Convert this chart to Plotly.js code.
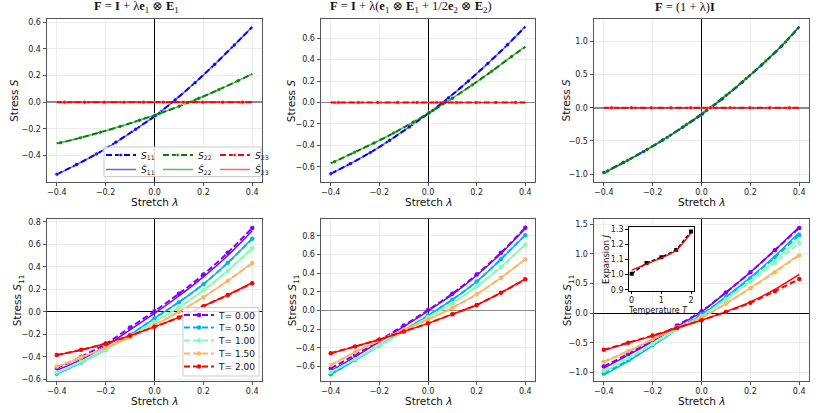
<!DOCTYPE html>
<html><head><meta charset="utf-8">
<script src="https://cdn.plot.ly/plotly-3.0.1.min.js"></script>
<style>html,body{margin:0;padding:0;background:#fff}#chart{width:822px;height:413px}</style>
</head><body><div id="chart"></div>
<script>
// ================= DATA =================
// Top row: stretch λ at which the plotted points (markers) of each component sit
const lamS11 = [-0.4,-0.319,-0.238,-0.158,-0.077,0.004,0.085,0.166,0.246,0.327,0.4];
const lamS22 = [-0.4,-0.384,-0.303,-0.222,-0.141,-0.061,0.020,0.101,0.182,0.263,0.343,0.4];
const lamS23 = [-0.4,-0.368,-0.287,-0.206,-0.125,-0.044,0.036,0.117,0.198,0.279,0.360,0.4];

// Panel A : F = I + λ e1⊗E1
const A_S11    = [-0.541,-0.468,-0.389,-0.300,-0.203,-0.100,0.018,0.147,0.284,0.430,0.565];
const A_S11hat = [-0.543,-0.469,-0.390,-0.301,-0.203,-0.100,0.018,0.147,0.284,0.430,0.566];
const A_S22    = [-0.308,-0.304,-0.267,-0.226,-0.182,-0.135,-0.085,-0.030,0.030,0.094,0.162,0.212];
const A_S22hat = [-0.308,-0.304,-0.267,-0.226,-0.182,-0.135,-0.085,-0.030,0.030,0.094,0.162,0.212];
const A_S23    = [0,0,0,0,0,0,0,0,0,0,0,0];
const A_S23hat = [0,0,0,0,0,0,0,0,0,0,0,0];

// Panel B : F = I + λ(e1⊗E1 + 1/2 e2⊗E2)
const B_S11    = [-0.666,-0.572,-0.469,-0.354,-0.229,-0.098,0.045,0.200,0.365,0.540,0.709];
const B_S11hat = [-0.667,-0.572,-0.469,-0.354,-0.229,-0.098,0.045,0.200,0.365,0.540,0.710];
const B_S22    = [-0.567,-0.553,-0.466,-0.379,-0.285,-0.184,-0.076,0.040,0.164,0.293,0.428,0.520];
const B_S22hat = [-0.567,-0.553,-0.466,-0.379,-0.285,-0.184,-0.076,0.040,0.164,0.293,0.428,0.521];
const B_S23    = [0,0,0,0,0,0,0,0,0,0,0,0];
const B_S23hat = [0,0,0,0,0,0,0,0,0,0,0,0];

// Panel C : F = (1 + λ) I
const C_S11    = [-0.975,-0.824,-0.662,-0.486,-0.295,-0.093,0.135,0.382,0.645,0.927,1.225];
const C_S11hat = [-0.980,-0.826,-0.663,-0.487,-0.296,-0.093,0.135,0.383,0.646,0.929,1.228];
const C_S22    = [-0.990,-0.955,-0.795,-0.628,-0.447,-0.250,-0.040,0.190,0.440,0.705,0.990,1.215];
const C_S22hat = [-0.995,-0.958,-0.797,-0.629,-0.448,-0.251,-0.040,0.190,0.441,0.707,0.993,1.225];
const C_S23    = [0,0,0,0,0,0,0,0,0,0,0,0];
const C_S23hat = [0,0,0,0,0,0,0,0,0,0,0,0];

// Bottom row: stretch grid and temperatures
const lamT  = [-0.4,-0.3,-0.2,-0.1,0.0,0.1,0.2,0.3,0.4];
const temps = [0.0, 0.5, 1.0, 1.5, 2.0];

// Panel D (uniaxial), S11 for T = 0, 0.5, 1, 1.5, 2  (dashed = data, solid = model)
const D_T0  = [-0.500,-0.400,-0.285,-0.140,0.005,0.160,0.330,0.525,0.745];
const D_T05 = [-0.550,-0.450,-0.335,-0.205,-0.058,0.085,0.245,0.435,0.648];
const D_T1  = [-0.540,-0.445,-0.335,-0.215,-0.090,0.040,0.190,0.365,0.565];
const D_T15 = [-0.487,-0.405,-0.320,-0.225,-0.118,0.000,0.130,0.275,0.433];
const D_T2  = [-0.383,-0.338,-0.282,-0.212,-0.134,-0.050,0.050,0.148,0.254];
const D_T0hat  = [-0.520,-0.425,-0.305,-0.160,-0.015,0.140,0.310,0.500,0.720];
const D_T05hat = [-0.552,-0.451,-0.336,-0.206,-0.058,0.085,0.245,0.435,0.650];
const D_T1hat  = [-0.545,-0.447,-0.336,-0.216,-0.090,0.040,0.190,0.365,0.565];
const D_T15hat = [-0.490,-0.406,-0.320,-0.225,-0.118,0.000,0.130,0.275,0.433];
const D_T2hat  = [-0.385,-0.339,-0.282,-0.212,-0.134,-0.050,0.050,0.150,0.258];

// Panel E (biaxial)
const E_T0  = [-0.620,-0.475,-0.320,-0.160,0.005,0.180,0.385,0.620,0.886];
const E_T05 = [-0.682,-0.530,-0.375,-0.215,-0.054,0.116,0.310,0.550,0.807];
const E_T1  = [-0.657,-0.520,-0.375,-0.225,-0.072,0.078,0.258,0.468,0.707];
const E_T15 = [-0.582,-0.445,-0.320,-0.205,-0.097,0.030,0.175,0.350,0.548];
const E_T2  = [-0.456,-0.385,-0.310,-0.225,-0.137,-0.040,0.060,0.190,0.334];
const E_T0hat  = [-0.645,-0.495,-0.335,-0.172,-0.005,0.170,0.375,0.610,0.878];
const E_T05hat = [-0.685,-0.531,-0.376,-0.215,-0.054,0.116,0.310,0.550,0.808];
const E_T1hat  = [-0.660,-0.521,-0.375,-0.225,-0.072,0.078,0.258,0.468,0.708];
const E_T15hat = [-0.584,-0.446,-0.320,-0.205,-0.097,0.030,0.175,0.350,0.550];
const E_T2hat  = [-0.458,-0.386,-0.310,-0.225,-0.137,-0.040,0.060,0.192,0.338];

// Panel F (volumetric)
const F_T0  = [-0.900,-0.690,-0.460,-0.210,0.030,0.350,0.690,1.060,1.440];
const F_T05 = [-1.020,-0.795,-0.540,-0.270,-0.020,0.270,0.590,0.940,1.320];
const F_T1  = [-0.975,-0.760,-0.520,-0.270,-0.050,0.230,0.530,0.850,1.190];
const F_T15 = [-0.820,-0.640,-0.440,-0.245,-0.080,0.160,0.420,0.690,0.975];
const F_T2  = [-0.620,-0.500,-0.380,-0.250,-0.120,0.020,0.175,0.370,0.575];
const F_T0hat  = [-0.930,-0.710,-0.475,-0.225,0.020,0.345,0.690,1.065,1.455];
const F_T05hat = [-1.045,-0.815,-0.550,-0.280,-0.030,0.275,0.605,0.965,1.360];
const F_T1hat  = [-0.995,-0.770,-0.525,-0.275,-0.050,0.240,0.550,0.890,1.255];
const F_T15hat = [-0.830,-0.645,-0.445,-0.248,-0.080,0.162,0.425,0.700,0.990];
const F_T2hat  = [-0.630,-0.505,-0.385,-0.252,-0.120,0.025,0.190,0.400,0.655];

// Inset: thermal expansion J vs temperature T
const insetT     = [0.0, 0.5, 1.0, 1.5, 2.0];
const insetJ     = [1.005, 1.077, 1.115, 1.163, 1.285];
const insetJhat  = [1.030, 1.070, 1.110, 1.160, 1.275];

// ================= STYLE =================
const FONT = 'DejaVu Sans, Verdana, sans-serif';
const SERIF = 'Liberation Serif, DejaVu Serif, serif';
const W = 822, H = 413;
const px = v => v / W, py = v => 1 - v / H;
const BLUE = '#0000ff', GREEN = '#008000', RED = '#ff0000';
const TCOL = ['#8000ff', '#00b4eb', '#80ffb4', '#ffb462', '#ff0000'];
const DASH = '6px,3px';
const MS = 4.5;

const traces = [];

function sizesFor(arr, skipFirst) {
  return arr.map((v, i) => (i === arr.length - 1 || (skipFirst && i === 0)) ? 0 : MS);
}

function topPanel(n, s11, s11h, s22, s22h, s23, s23h, legend) {
  const xa = 'x' + (n === 1 ? '' : n), ya = 'y' + (n === 1 ? '' : n);
  const specs = [
    [lamS11, s11, s11h, BLUE, '11', false, 'spline'],
    [lamS22, s22, s22h, GREEN, '22', true, 'spline'],
    [lamS23, s23, s23h, RED, '23', true, 'linear']
  ];
  specs.forEach(([lx, y, yh, col, sub, skip, shape]) => {
    traces.push({x: lx, y: y, xaxis: xa, yaxis: ya, type: 'scatter', mode: 'lines+markers',
      name: '<i>S</i><sub>' + sub + '</sub>', legend: 'legend', showlegend: legend,
      line: {color: col, width: 2, dash: DASH, shape: shape, smoothing: 0.8},
      marker: {color: col, size: sizesFor(lx, skip)}});
    traces.push({x: lx, y: yh, xaxis: xa, yaxis: ya, type: 'scatter', mode: 'lines',
      name: '<i>Ŝ</i><sub>' + sub + '</sub>', legend: 'legend2', showlegend: legend,
      opacity: 0.6, line: {color: col, width: 1.5, shape: shape, smoothing: 0.8}});
  });
}

function bottomPanel(n, sets, hats, legend) {
  const xa = 'x' + n, ya = 'y' + n;
  sets.forEach((y, i) => {
    traces.push({x: lamT, y: y, xaxis: xa, yaxis: ya, type: 'scatter', mode: 'lines+markers',
      name: 'T= ' + temps[i].toFixed(2), legend: 'legend' + (3 + i), showlegend: legend,
      line: {color: TCOL[i], width: 2, dash: DASH, shape: 'spline', smoothing: 0.8},
      marker: {color: TCOL[i], size: MS}});
    traces.push({x: lamT, y: hats[i], xaxis: xa, yaxis: ya, type: 'scatter', mode: 'lines',
      showlegend: false, line: {color: TCOL[i], width: 1.5, shape: 'spline', smoothing: 0.8}});
  });
}

topPanel(1, A_S11, A_S11hat, A_S22, A_S22hat, A_S23, A_S23hat, true);
topPanel(2, B_S11, B_S11hat, B_S22, B_S22hat, B_S23, B_S23hat, false);
topPanel(3, C_S11, C_S11hat, C_S22, C_S22hat, C_S23, C_S23hat, false);
bottomPanel(4, [D_T0, D_T05, D_T1, D_T15, D_T2], [D_T0hat, D_T05hat, D_T1hat, D_T15hat, D_T2hat], true);
bottomPanel(5, [E_T0, E_T05, E_T1, E_T15, E_T2], [E_T0hat, E_T05hat, E_T1hat, E_T15hat, E_T2hat], false);
bottomPanel(6, [F_T0, F_T05, F_T1, F_T15, F_T2], [F_T0hat, F_T05hat, F_T1hat, F_T15hat, F_T2hat], false);

// inset
traces.push({x: insetT, y: insetJ, xaxis: 'x7', yaxis: 'y7', type: 'scatter', mode: 'lines+markers',
  showlegend: false, line: {color: '#000', width: 1.5, dash: '4px,2px'}, marker: {color: '#000', size: 4, symbol: 'square'}});
traces.push({x: insetT, y: insetJhat, xaxis: 'x7', yaxis: 'y7', type: 'scatter', mode: 'lines',
  showlegend: false, line: {color: RED, width: 1.3, shape: 'spline', smoothing: 0.6}});

// ================= LAYOUT =================
const colX = [[47, 262], [321, 535], [594, 809]];
const rowY = [[19, 182], [219, 381]];
const tickFont = {family: FONT, size: 8, color: '#222'};

function xAxis(col, row, anchor) {
  return {domain: [px(colX[col][0]), px(colX[col][1])], anchor: anchor, range: [-0.44, 0.44],
    tickvals: [-0.4, -0.2, 0, 0.2, 0.4], tickformat: '.1f', tickfont: tickFont,
    showgrid: true, gridcolor: '#ececec', gridwidth: 1,
    zeroline: true, zerolinecolor: '#000', zerolinewidth: 1,
    showline: true, mirror: true, linecolor: '#555', linewidth: 1,
    ticks: 'outside', ticklen: 2.5, tickwidth: 1, tickcolor: '#555', fixedrange: true};
}
function yAxis(col, row, anchor, range, dtick, zcol, zw) {
  return {domain: [py(rowY[row][1]), py(rowY[row][0])], anchor: anchor, range: range,
    dtick: dtick, tick0: 0, tickformat: '.1f', tickfont: tickFont,
    showgrid: true, gridcolor: '#ececec', gridwidth: 1,
    zeroline: true, zerolinecolor: zcol, zerolinewidth: zw,
    showline: true, mirror: true, linecolor: '#555', linewidth: 1,
    ticks: 'outside', ticklen: 3.5, tickwidth: 1, tickcolor: '#555', fixedrange: true};
}

const layout = {
  width: W, height: H, margin: {l: 0, r: 0, t: 0, b: 0},
  paper_bgcolor: '#fff', plot_bgcolor: '#fff', showlegend: true,
  font: {family: FONT, size: 10, color: '#111'},
  xaxis:  xAxis(0, 0, 'y'),  yaxis:  yAxis(0, 0, 'x',  [-0.599, 0.625], 0.2, '#8a8a8a', 1.6),
  xaxis2: xAxis(1, 0, 'y2'), yaxis2: yAxis(1, 0, 'x2', [-0.743, 0.78], 0.2, '#8a8a8a', 1.6),
  xaxis3: xAxis(2, 0, 'y3'), yaxis3: yAxis(2, 0, 'x3', [-1.12, 1.34], 0.5, '#8a8a8a', 1.6),
  xaxis4: xAxis(0, 1, 'y4'), yaxis4: yAxis(0, 1, 'x4', [-0.615, 0.824], 0.2, '#000', 1),
  xaxis5: xAxis(1, 1, 'y5'), yaxis5: yAxis(1, 1, 'x5', [-0.754, 0.98], 0.2, '#8a8a8a', 1.6),
  xaxis6: xAxis(2, 1, 'y6'), yaxis6: yAxis(2, 1, 'x6', [-1.147, 1.59], 0.5, '#000', 1),
  xaxis7: {domain: [px(628.7), px(694)], anchor: 'y7', range: [-0.1, 2.1], dtick: 1, tick0: 0,
    tickfont: {family: FONT, size: 8, color: '#222'}, showgrid: false, zeroline: false,
    showline: true, mirror: true, linecolor: '#000', linewidth: 1,
    ticks: 'outside', ticklen: 2, tickcolor: '#000', fixedrange: true},
  yaxis7: {domain: [py(290.5), py(227.3)], anchor: 'x7', range: [0.895, 1.313], dtick: 0.1, tick0: 0,
    tickformat: '.1f', tickfont: {family: FONT, size: 8, color: '#222'}, showgrid: false, zeroline: false,
    showline: true, mirror: true, linecolor: '#000', linewidth: 1,
    ticks: 'outside', ticklen: 2.5, tickcolor: '#000', fixedrange: true},
  shapes: [
    {type: 'rect', xref: 'paper', yref: 'paper', x0: px(104), x1: px(261), y0: py(176.5), y1: py(147),
     fillcolor: 'rgba(255,255,255,0.85)', line: {color: '#cccccc', width: 1}, layer: 'above'},
    {type: 'rect', xref: 'paper', yref: 'paper', x0: px(183), x1: px(259), y0: py(376), y1: py(307.5),
     fillcolor: 'rgba(255,255,255,0.85)', line: {color: '#cccccc', width: 1}, layer: 'above'}
  ],
  annotations: []
};

// legends (top: two rows of three; bottom: five single rows)
const legBase = {xanchor: 'left', yanchor: 'middle', bgcolor: 'rgba(0,0,0,0)', borderwidth: 0,
  font: {family: FONT, size: 9, color: '#111'}, itemclick: false, itemdoubleclick: false};
layout.legend  = Object.assign({}, legBase, {x: px(101), y: py(155), orientation: 'h', entrywidth: 12});
layout.legend2 = Object.assign({}, legBase, {x: px(101), y: py(169.5), orientation: 'h', entrywidth: 12});
const bRows = [315, 327.5, 340.5, 353.5, 366.5];
bRows.forEach((yy, i) => {
  layout['legend' + (3 + i)] = Object.assign({}, legBase, {x: px(179), y: py(yy), orientation: 'v'});
});

function ann(text, x, y, size, opts) {
  layout.annotations.push(Object.assign({text: text, x: px(x), y: py(y), xref: 'paper', yref: 'paper',
    showarrow: false, xanchor: 'center', yanchor: 'middle',
    font: {family: FONT, size: size, color: '#111'}}, opts || {}));
}
// panel titles
const titleFont = {family: SERIF, size: 12.5, color: '#111'};
ann('<b>F</b> = <b>I</b> + λ<b>e</b><sub>1</sub> ⊗ <b>E</b><sub>1</sub>', 136.7, 7, 12, {font: titleFont});
ann('<b>F</b> = <b>I</b> + λ(<b>e</b><sub>1</sub> ⊗ <b>E</b><sub>1</sub> + 1/2<b>e</b><sub>2</sub> ⊗ <b>E</b><sub>2</sub>)', 411, 7, 12, {font: titleFont});
ann('<b>F</b> = (1 + λ)<b>I</b>', 684.7, 7, 12, {font: titleFont});
// axis titles
[154.5, 428, 701.5].forEach(x => { ann('Stretch <i>λ</i>', x, 201.5, 10.5); ann('Stretch <i>λ</i>', x, 401, 10.5); });
[13.3, 290.7, 565].forEach(x => ann('Stress <i>S</i>', x, 100.5, 10.5, {textangle: -90}));
[18.3, 293.3, 568.3].forEach(x => ann('Stress <i>S</i><sub>11</sub>', x, 300, 10.5, {textangle: -90}));
ann('Expansion <i>J</i>', 605.5, 259.5, 8.5, {textangle: -90});
ann('Temperature <i>T</i>', 658, 310, 8);

Plotly.newPlot('chart', traces, layout, {staticPlot: true, displayModeBar: false});
</script></body></html>
